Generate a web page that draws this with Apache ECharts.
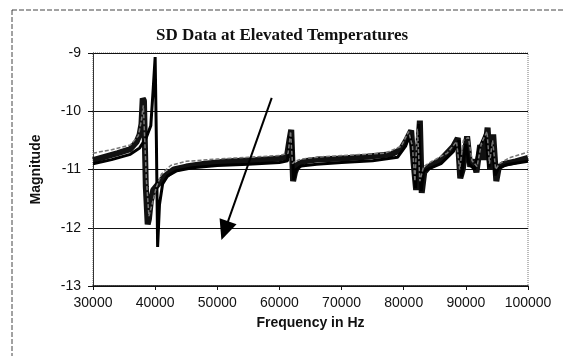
<!DOCTYPE html>
<html>
<head>
<meta charset="utf-8">
<script src="https://cdn.jsdelivr.net/npm/echarts@6/dist/echarts.min.js"></script>
<style>
  html, body { margin: 0; padding: 0; background: #fff; }
  #chart { width: 564px; height: 356px; }
</style>
</head>
<body>
<div id="chart"></div>
<script>
// x ticks / y ticks
const xTicks = [30000, 40000, 50000, 60000, 70000, 80000, 90000, 100000];
const yTicks = [-13, -12, -11, -10, -9];

// curve 1 (thick black)
const freqA = [30000, 32000, 34000, 36000, 37000, 37500, 37800, 38000, 38200, 38500, 38800, 39000, 39300, 39700, 40500, 41500, 43000, 45000, 48000, 52000, 56000, 60000, 61200, 61600, 61900, 62200, 62500, 63000, 64000, 66000, 70000, 74000, 78000, 79500, 80500, 81200, 81600, 82000, 82300, 82600, 82900, 83300, 84000, 86000, 88000, 88700, 89100, 89500, 90200, 90700, 91200, 91700, 92300, 92900, 93500, 93900, 94400, 94900, 95300, 96000, 98000, 100000];
const magA = [-10.84, -10.78, -10.72, -10.65, -10.53, -10.4, -10.22, -9.78, -9.82, -11.3, -11.94, -11.85, -11.55, -11.35, -11.25, -11.12, -11.0, -10.95, -10.9, -10.86, -10.84, -10.81, -10.78, -10.5, -10.32, -11.2, -11.05, -10.91, -10.86, -10.83, -10.81, -10.78, -10.74, -10.66, -10.48, -10.33, -10.9, -11.35, -10.7, -10.16, -11.4, -11.05, -10.96, -10.83, -10.6, -10.46, -11.15, -11.0, -10.43, -10.95, -10.83, -11.05, -10.58, -10.83, -10.28, -11.0, -10.4, -11.2, -10.96, -10.91, -10.86, -10.8];

// curve 2 (black, spike near 40 kHz)
const freqB = [30000, 33000, 36000, 37500, 38500, 39300, 39700, 40000, 40200, 40400, 40700, 41200, 42000, 43500, 46000, 50000, 55000, 60000, 61300, 61700, 62000, 62300, 62700, 63500, 66000, 70000, 75000, 79000, 80300, 81000, 81500, 81900, 82400, 82800, 83200, 84000, 86000, 88000, 88900, 89300, 90000, 90500, 91400, 92100, 93200, 93700, 94200, 94700, 95200, 96500, 100000];
const magB = [-10.9, -10.83, -10.74, -10.63, -10.47, -10.25, -9.6, -9.07, -10.5, -12.33, -11.6, -11.25, -11.11, -11.02, -10.97, -10.93, -10.91, -10.88, -10.85, -10.4, -10.5, -11.18, -11.0, -10.94, -10.91, -10.88, -10.85, -10.79, -10.6, -10.4, -10.8, -11.32, -10.22, -11.37, -11.03, -10.99, -10.9, -10.69, -10.5, -11.12, -10.56, -10.9, -11.0, -10.65, -10.38, -10.96, -10.5, -11.1, -10.98, -10.92, -10.86];

// curve 3 (grey dashed)
const freqC = [30000, 33000, 36000, 37300, 37800, 38100, 38600, 39000, 39500, 40200, 41000, 42500, 45000, 50000, 55000, 60000, 61400, 61800, 62100, 62500, 63500, 67000, 72000, 77000, 79600, 80800, 81400, 81800, 82200, 82600, 83200, 84500, 87000, 88500, 89000, 89600, 90400, 91000, 91800, 92500, 93400, 93800, 94300, 94800, 95400, 97000, 100000];
const magC = [-10.72, -10.66, -10.58, -10.42, -10.15, -9.9, -11.2, -11.8, -11.6, -11.3, -11.08, -10.93, -10.86, -10.82, -10.79, -10.76, -10.72, -10.35, -10.9, -10.86, -10.82, -10.78, -10.75, -10.72, -10.6, -10.35, -10.6, -11.2, -10.3, -11.2, -10.95, -10.86, -10.72, -10.52, -11.0, -10.5, -10.45, -10.85, -10.95, -10.55, -10.35, -10.9, -10.5, -11.0, -10.9, -10.8, -10.7];

// arrow (start -> tip)
const arrowFreq = [58760, 51200];
const arrowMag = [-9.77, -12.05];

const pairs = (xs, ys) => xs.map((x, i) => [x, ys[i]]);

const chart = echarts.init(document.getElementById('chart'), null, { renderer: 'canvas' });

const LABEL_FONT = { color: '#111', fontSize: 14, fontFamily: 'Liberation Sans' };

chart.setOption({
  backgroundColor: '#fff',
  animation: false,
  title: {
    text: 'SD Data at Elevated Temperatures',
    left: 'center',
    top: 22,
    textStyle: { fontFamily: 'Liberation Serif', fontWeight: 'bold', fontSize: 17, color: '#111' },
  },
  graphic: [{
    type: 'rect',
    silent: true,
    z: -1,
    shape: { x: 12, y: 10, width: 600, height: 400 },
    style: { fill: 'none', stroke: '#444', lineWidth: 1, lineDash: [5, 2] },
  }],
  grid: {
    left: 93, right: 36, top: 53, bottom: 70,
    show: true,
    borderColor: '#777',
    borderWidth: 1,
    borderType: 'dotted',
  },
  xAxis: {
    type: 'value',
    min: xTicks[0],
    max: xTicks[xTicks.length - 1],
    interval: 10000,
    name: 'Frequency in Hz',
    nameLocation: 'middle',
    nameGap: 30,
    nameTextStyle: { fontFamily: 'Liberation Sans', fontWeight: 'bold', fontSize: 14, color: '#111' },
    axisLine: { lineStyle: { color: '#111', width: 1.5 } },
    axisTick: { show: true, length: 4, lineStyle: { color: '#111' } },
    axisLabel: { ...LABEL_FONT, margin: 10, formatter: (v) => String(v) },
    splitLine: { show: false },
  },
  yAxis: {
    type: 'value',
    min: yTicks[0],
    max: yTicks[yTicks.length - 1],
    interval: 1,
    name: 'Magnitude',
    nameLocation: 'middle',
    nameGap: 50,
    nameTextStyle: { fontFamily: 'Liberation Sans', fontWeight: 'bold', fontSize: 14, color: '#111' },
    axisLine: { show: true, lineStyle: { color: '#333', width: 1 } },
    axisTick: { show: true, length: 5, lineStyle: { color: '#111' } },
    axisLabel: { ...LABEL_FONT, margin: 12 },
    splitLine: { show: true, lineStyle: { color: '#111', width: 1.2 } },
  },
  series: [
    {
      name: 'C',
      type: 'line',
      data: pairs(freqC, magC),
      symbol: 'none',
      lineStyle: { color: '#777', width: 1.5, type: [4, 2] },
      z: 3,
      markLine: {
        silent: true,
        symbol: ['none', 'triangle'],
        symbolSize: [18, 20],
        label: { show: false },
        lineStyle: { color: '#000', width: 2, type: 'solid' },
        data: [[
          { coord: [arrowFreq[0], arrowMag[0]] },
          { coord: [arrowFreq[1], arrowMag[1]] },
        ]],
      },
    },
    {
      name: 'A',
      type: 'line',
      data: pairs(freqA, magA),
      symbol: 'none',
      lineStyle: { color: '#111', width: 6 },
      z: 2,
    },
    {
      name: 'B',
      type: 'line',
      data: pairs(freqB, magB),
      symbol: 'none',
      lineStyle: { color: '#000', width: 3 },
      z: 2,
    },
  ],
});
</script>
</body>
</html>
